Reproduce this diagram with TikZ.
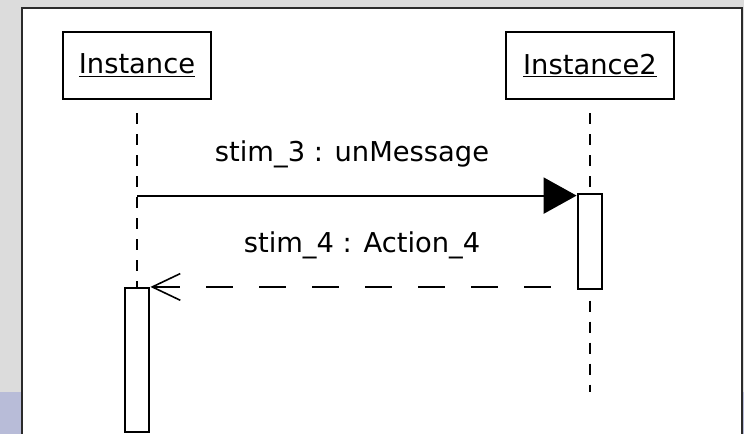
\documentclass[tikz,border=0pt]{standalone}
\usepackage{fontspec}
\setmainfont{DejaVu Sans}
\usetikzlibrary{arrows.meta}
\definecolor{desk}{HTML}{DCDCDC}
\definecolor{frame}{HTML}{2B2B2B}
\definecolor{taskbar}{HTML}{B8BCD8}
\begin{document}
\begin{tikzpicture}[x=0.75pt,y=-0.75pt,every node/.style={font=\fontsize{20.5pt}{24pt}\selectfont}]
    \tikzset{
      obj/.style={draw,rectangle,line width=2pt,inner sep=0pt,
        minimum height=50.25pt},
      act/.style={draw,rectangle,line width=1.6pt,fill=white,inner sep=0pt,
        minimum width=18.5pt},
      life/.style={line width=1.6pt,dash pattern=on 8.25pt off 7.5pt},
      call/.style={line width=1.6pt,-{Triangle[length=24.75pt,width=27pt]}},
      reply/.style={line width=1.6pt,dash pattern=on 20.25pt off 19.5pt,
        dash phase=20.25pt,-{Straight Barb[length=21pt,width=20pt,line width=1.2pt]}},
      msg/.style={anchor=base}
    }
    \useasboundingbox (0,0) rectangle (744,434);
    \fill[desk] (0,0) rectangle (744,434);
    \fill[taskbar] (0,392) rectangle (22,434);
    \fill[taskbar] (742,392) rectangle (744,434);
    \filldraw[fill=white,draw=frame,line width=1.5pt]
      (22,436) -- (22,8) -- (742,8) -- (742,436);

    \node[obj,minimum width=111pt] (inst) at (137,65.5) {\underline{Instance}};
    \node[obj,minimum width=126pt] (inst2) at (590,65.5) {\underline{Instance2}};
    \node[act,minimum height=108pt] (act1) at (137,360) {};
    \node[act,minimum height=71.25pt] (act2) at (590,241.5) {};
    \coordinate (end2) at (590,392);

    % lifelines
    \draw[life,shorten <=9.75pt] (inst.south) -- (act1.north);
    \draw[life,shorten <=9.75pt] (inst2.south) -- (act2.north);
    \draw[life,shorten <=8pt] (act2.south) -- (end2);

    % messages
    \draw[call] ([yshift=-2pt]inst |- act2.north west) -- ([yshift=-2pt]act2.north west);
    \node[msg] (m3) at (352,162) {stim\_3 : unMessage};
    \draw[reply] (act1.north east -| act2.west) -- (act1.north east);
    \node[msg] (m4) at (362,253) {stim\_4 : Action\_4};
  \end{tikzpicture}
\end{document}
